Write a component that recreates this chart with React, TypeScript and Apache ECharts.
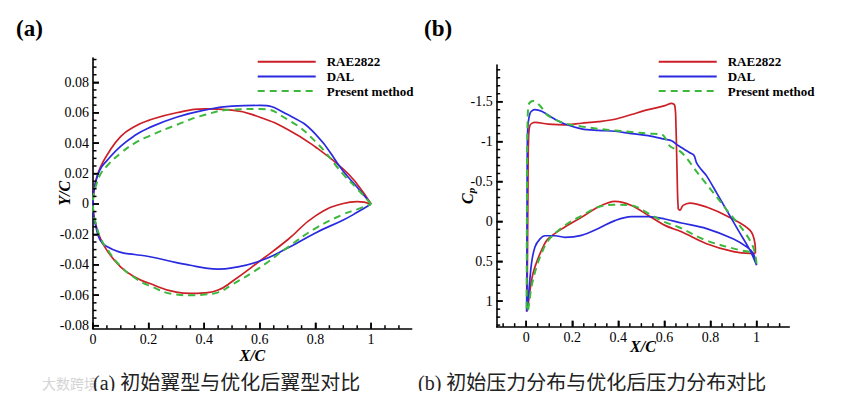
import React, { useEffect, useRef } from "react";
import * as echarts from "echarts";

// ---------- (a) airfoil geometry ----------
const upperX = [0, 0.0025, 0.01, 0.025, 0.05, 0.1, 0.15, 0.2, 0.3, 0.4, 0.5, 0.6, 0.7, 0.8, 0.9, 0.95, 1.0];
const raeUpperY = [0, 0.0078, 0.0152, 0.0235, 0.032, 0.0445, 0.051, 0.055, 0.06, 0.0625, 0.0617, 0.057, 0.049, 0.0375, 0.023, 0.013, 0];
const dalUpperY = [0, 0.0075, 0.0145, 0.0225, 0.0285, 0.038, 0.045, 0.05, 0.057, 0.0617, 0.0643, 0.0648, 0.0588, 0.046, 0.0215, 0.011, 0];
const presentUpperY = [0, 0.006, 0.0115, 0.019, 0.025, 0.0335, 0.04, 0.0445, 0.052, 0.0585, 0.062, 0.0625, 0.0555, 0.041, 0.0195, 0.01, 0];

const lowerX = [0, 0.0025, 0.01, 0.025, 0.05, 0.1, 0.15, 0.2, 0.3, 0.35, 0.4, 0.45, 0.5, 0.6, 0.7, 0.8, 0.9, 0.95, 1.0];
const raeLowerY = [0, -0.007, -0.0135, -0.022, -0.0305, -0.0415, -0.048, -0.052, -0.058, -0.0588, -0.0584, -0.0566, -0.051, -0.0375, -0.0235, -0.0078, 0.0003, 0.0015, 0];
const dalLowerY = [0, -0.0075, -0.0145, -0.0235, -0.028, -0.0318, -0.0332, -0.0345, -0.0385, -0.0403, -0.042, -0.0428, -0.042, -0.0375, -0.029, -0.019, -0.0105, -0.0055, 0];
const presentLowerY = [0, -0.0065, -0.0125, -0.0215, -0.0295, -0.041, -0.0485, -0.0535, -0.0595, -0.06, -0.0595, -0.0581, -0.053, -0.0418, -0.0285, -0.016, -0.0068, -0.0035, 0];

// ---------- (b) pressure distribution ----------
const raeCpUpperX = [0.002, 0.003, 0.006, 0.008, 0.01, 0.016, 0.038, 0.095, 0.168, 0.24, 0.313, 0.385, 0.457, 0.53, 0.602, 0.631, 0.645, 0.65, 0.655, 0.66, 0.667, 0.681, 0.71, 0.783, 0.884, 0.971, 0.993, 0.995];
const raeCpUpperY = [1.13, 1.1, 0.3, -0.5, -1.0, -1.2, -1.24, -1.22, -1.21, -1.23, -1.25, -1.28, -1.34, -1.4, -1.45, -1.48, -1.45, -1.2, -0.6, -0.16, -0.14, -0.2, -0.23, -0.18, -0.05, 0.11, 0.28, 0.4];
const raeCpLowerX = [0.002, 0.009, 0.023, 0.038, 0.067, 0.095, 0.168, 0.24, 0.313, 0.385, 0.457, 0.53, 0.602, 0.674, 0.783, 0.9, 0.971, 0.995];
const raeCpLowerY = [1.13, 1.03, 0.74, 0.57, 0.36, 0.22, 0.07, -0.05, -0.18, -0.25, -0.2, -0.075, 0.05, 0.13, 0.28, 0.38, 0.4, 0.4];

const dalCpUpperX = [0.002, 0.003, 0.004, 0.006, 0.016, 0.038, 0.067, 0.125, 0.168, 0.24, 0.313, 0.385, 0.457, 0.53, 0.602, 0.631, 0.66, 0.71, 0.728, 0.74, 0.76, 0.783, 0.826, 0.87, 0.92, 0.971, 1.0];
const dalCpUpperY = [1.13, 0.5, -0.5, -1.1, -1.35, -1.4, -1.38, -1.28, -1.22, -1.16, -1.14, -1.13, -1.1, -1.075, -1.03, -1.01, -0.95, -0.86, -0.83, -0.73, -0.65, -0.57, -0.36, -0.14, 0.11, 0.36, 0.55];
const dalCpLowerX = [0.002, 0.009, 0.023, 0.038, 0.06, 0.081, 0.125, 0.168, 0.24, 0.313, 0.385, 0.457, 0.53, 0.602, 0.674, 0.783, 0.9, 0.957, 0.985, 1.0];
const dalCpLowerY = [1.13, 0.96, 0.53, 0.32, 0.22, 0.18, 0.18, 0.2, 0.175, 0.09, -0.01, -0.06, -0.06, -0.03, 0.02, 0.09, 0.22, 0.32, 0.4, 0.55];

const presentCpUpperX = [0.002, 0.003, 0.005, 0.009, 0.03, 0.06, 0.095, 0.168, 0.24, 0.313, 0.385, 0.457, 0.53, 0.587, 0.625, 0.667, 0.7, 0.725, 0.768, 0.826, 0.877, 0.942, 0.985, 1.0];
const presentCpUpperY = [1.13, 0.0, -1.0, -1.45, -1.51, -1.45, -1.325, -1.23, -1.19, -1.16, -1.14, -1.12, -1.1, -1.09, -0.94, -0.88, -0.78, -0.68, -0.52, -0.31, -0.12, 0.11, 0.32, 0.53];
const presentCpLowerX = [0.002, 0.009, 0.023, 0.045, 0.067, 0.095, 0.168, 0.24, 0.313, 0.385, 0.457, 0.53, 0.602, 0.66, 0.783, 0.927, 0.97, 0.993];
const presentCpLowerY = [1.13, 1.1, 0.82, 0.57, 0.4, 0.24, 0.05, -0.07, -0.18, -0.21, -0.2, -0.1, 0.01, 0.07, 0.24, 0.36, 0.38, 0.38];

// ---------- ticks ----------
const aXTicks = [0, 0.2, 0.4, 0.6, 0.8, 1];
const aYTicks = [-0.08, -0.06, -0.04, -0.02, 0, 0.02, 0.04, 0.06, 0.08];
const bXTicks = [0, 0.2, 0.4, 0.6, 0.8, 1];
const bYTicks = [-1.5, -1, -0.5, 0, 0.5, 1];

const seriesNames = ["RAE2822", "DAL", "Present method"];
const colors = ["#cc1f26", "#2a2ae0", "#3cb83c"];

function minorTicks(from: number, to: number, step: number, majors: number[]) {
  const out: number[] = [];
  const n = Math.round((to - from) / step);
  for (let i = 0; i <= n; i++) {
    const v = Math.round((from + i * step) * 10000) / 10000;
    if (!majors.some((m) => Math.abs(m - v) < 1e-9)) out.push(v);
  }
  return out;
}

function loop(ux: number[], uy: number[], lx: number[], ly: number[]) {
  const up = ux.map((x, i) => [x, uy[i]]).reverse();
  const lo = lx.map((x, i) => [x, ly[i]]).slice(1);
  return up.concat(lo);
}

const SERIF = '"Liberation Serif", "Times New Roman", serif';

export default function App() {
  const ref = useRef<HTMLDivElement>(null);
  useEffect(() => {
    if (!ref.current) return;
    const chart = echarts.init(ref.current, null, { renderer: "svg" });

    const tickLine = { color: "#000", width: 1.5 };
    const axisLineOpt = { show: true, onZero: false, lineStyle: { color: "#000", width: 1.6 } };
    const labelStyle = { color: "#000", fontFamily: SERIF, fontSize: 14 };
    const nameStyle = { fontFamily: SERIF, fontSize: 16, fontWeight: "bold", fontStyle: "italic", color: "#000" };

    const gridA = { left: 93, top: 58, width: 318.7, height: 270.7 };
    const gridB = { left: 496.7, top: 65, width: 292.6, height: 261.7 };
    const aX = { min: 0, max: 1.146 };
    const aY = { min: -0.082, max: 0.096 };
    const bX = { min: -0.128, max: 1.142 };
    const bY = { min: -1.96, max: 1.32 };

    const mainAxis = (gridIndex: number, range: any, ticks: number[], fmt: (v: number) => string, extra: any) => ({
      type: "value", gridIndex, ...range,
      axisLine: axisLineOpt,
      axisTick: { show: true, inside: true, length: 6, customValues: ticks, lineStyle: tickLine },
      axisLabel: { show: true, customValues: ticks, margin: 4, formatter: fmt, ...labelStyle },
      splitLine: { show: false },
      ...extra,
    });

    const aData = [
      loop(upperX, raeUpperY, lowerX, raeLowerY),
      loop(upperX, dalUpperY, lowerX, dalLowerY),
      loop(upperX, presentUpperY, lowerX, presentLowerY),
    ];
    const bData = [
      loop(raeCpUpperX, raeCpUpperY, raeCpLowerX, raeCpLowerY),
      loop(dalCpUpperX, dalCpUpperY, dalCpLowerX, dalCpLowerY),
      loop(presentCpUpperX, presentCpUpperY, presentCpLowerX, presentCpLowerY),
    ];

    const mkSeries = (data: number[][][], idx: number, smooth: number) =>
      data.map((d, i) => ({
        type: "line",
        name: seriesNames[i],
        xAxisIndex: idx,
        yAxisIndex: idx,
        data: d,
        symbol: "none",
        smooth,
        lineStyle: { color: colors[i], width: i === 2 ? 2 : 1.7, type: i === 2 ? [7, 5] : "solid" },
        itemStyle: { color: colors[i] },
        z: 2 + i,
      }));

    // inside minor/major tick marks placed through the axes' own scales (api.coord)
    const tickItems = (xMaj: number[], xMin: number[], yMaj: number[], yMin: number[]) => [
      ...xMaj.map((v) => [v, 0, 6]),
      ...xMin.map((v) => [v, 0, 3.5]),
      ...yMaj.map((v) => [v, 1, 6]),
      ...yMin.map((v) => [v, 1, 3.5]),
    ];
    const tickSeries = (idx: number, items: number[][]) => ({
      type: "custom",
      xAxisIndex: idx,
      yAxisIndex: idx,
      silent: true,
      clip: false,
      z: 10,
      data: items,
      renderItem: (params: any, api: any) => {
        const v = api.value(0);
        const isY = api.value(1);
        const len = api.value(2);
        const cs = params.coordSys;
        if (!isY) {
          const px = api.coord([v, 0])[0];
          const py = cs.y + cs.height;
          return { type: "line", shape: { x1: px, y1: py, x2: px, y2: py - len }, style: { stroke: "#000", lineWidth: 1.5 } };
        }
        const py = api.coord([0, v])[1];
        const px = cs.x;
        return { type: "line", shape: { x1: px, y1: py, x2: px + len, y2: py }, style: { stroke: "#000", lineWidth: 1.5 } };
      },
    });

    const legendCommon = {
      orient: "vertical",
      itemWidth: 58,
      itemHeight: 14,
      itemGap: 1.6,
      data: seriesNames,
      itemStyle: { opacity: 0 },
      textStyle: { fontFamily: SERIF, fontSize: 13, fontWeight: "bold", color: "#000", padding: [0, 0, 0, 6] },
      selectedMode: false,
    };

    const fmtPlain = (v: number) => String(v);
    const fmtA = (v: number) => (v === 0 ? "0" : v.toFixed(2));

    chart.setOption({
      animation: false,
      backgroundColor: "#fff",
      legend: [
        { ...legendCommon, left: 251.7, top: 50.3 },
        { ...legendCommon, left: 652.7, top: 50.3 },
      ],
      grid: [gridA, gridB],
      xAxis: [
        mainAxis(0, aX, aXTicks, fmtPlain, { name: "X/C", nameLocation: "middle", nameGap: 19, nameMoveOverlap: false, nameTextStyle: nameStyle }),
        mainAxis(1, bX, bXTicks, fmtPlain, { name: "X/C", nameLocation: "middle", nameGap: 12, nameMoveOverlap: false, nameTextStyle: nameStyle }),
      ],
      yAxis: [
        mainAxis(0, aY, aYTicks, fmtA, { name: "Y/C", nameLocation: "middle", nameGap: 21, nameRotate: 90, nameMoveOverlap: false, nameTextStyle: nameStyle }),
        mainAxis(1, bY, bYTicks, fmtPlain, {
          inverse: true,
          name: "{c|C}{s|p}", nameLocation: "middle", nameGap: 20, nameRotate: 90, nameMoveOverlap: false,
          nameTextStyle: {
            color: "#000",
            rich: {
              c: { fontFamily: SERIF, fontSize: 16, fontWeight: "bold", fontStyle: "italic", color: "#000" },
              s: { fontFamily: SERIF, fontSize: 11, fontWeight: "bold", fontStyle: "italic", color: "#000", padding: [7, 0, 0, 0] },
            },
          },
        }),
      ],
      series: [
        ...mkSeries(aData, 0, 0.5),
        ...mkSeries(bData, 1, 0.35),
        tickSeries(0, tickItems(aXTicks, minorTicks(0, 1.1, 0.05, aXTicks), aYTicks, minorTicks(-0.08, 0.095, 0.005, aYTicks))),
        tickSeries(1, tickItems(bXTicks, minorTicks(-0.1, 1.1, 0.05, bXTicks), bYTicks, minorTicks(-1.9, 1.3, 0.1, bYTicks))),
      ],
      graphic: [
        { type: "text", x: 16, y: 28, style: { text: "(a)", fontFamily: SERIF, fontSize: 23, fontWeight: "bold", fill: "#000", verticalAlign: "middle" } },
        { type: "text", x: 424, y: 28, style: { text: "(b)", fontFamily: SERIF, fontSize: 23, fontWeight: "bold", fill: "#000", verticalAlign: "middle" } },
        { type: "text", x: 42, y: 383, style: { text: "大数跨境", fontFamily: '"Noto Sans CJK SC", sans-serif', fontSize: 14, fill: "#d4d4d4", verticalAlign: "middle" } },
        { type: "text", x: 93, y: 383, style: { text: "(a) 初始翼型与优化后翼型对比", fontFamily: '"Liberation Serif", "Noto Sans CJK SC", serif', fontSize: 20, fill: "#222", verticalAlign: "middle" } },
        { type: "text", x: 418, y: 383, style: { text: "(b) 初始压力分布与优化后压力分布对比", fontFamily: '"Liberation Serif", "Noto Sans CJK SC", serif', fontSize: 20, fill: "#222", verticalAlign: "middle" } },
      ],
    });
    return () => chart.dispose();
  }, []);
  return <div ref={ref} style={{ width: 865, height: 399, margin: -8 }} />;
}
